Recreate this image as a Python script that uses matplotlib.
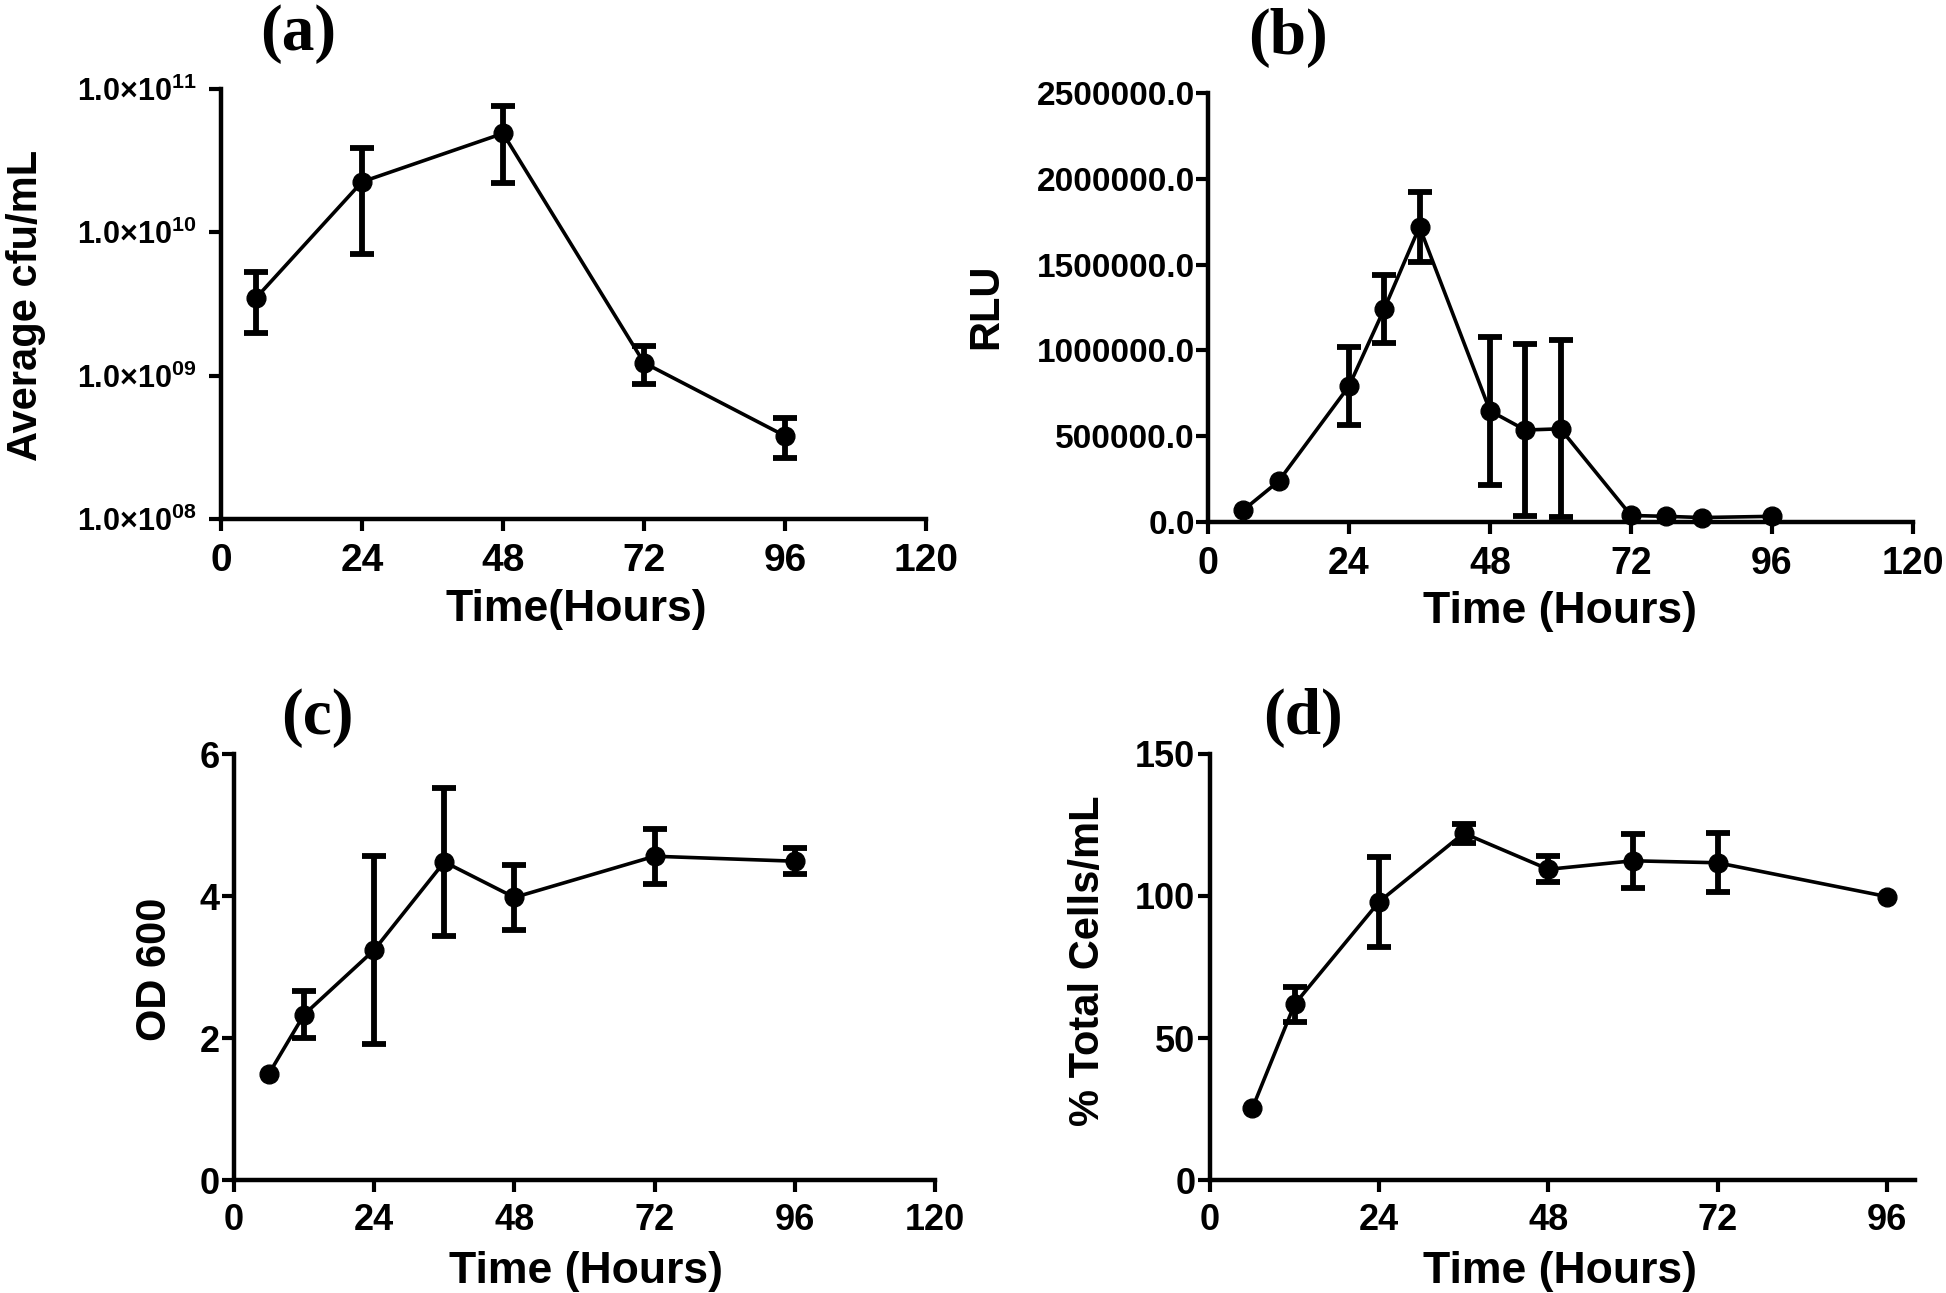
import numpy as np
import matplotlib
matplotlib.use("Agg")
import matplotlib.pyplot as plt
from matplotlib.ticker import FixedLocator, FixedFormatter, NullLocator

# --- data ---
# (a) viable counts
t_a = [6, 24, 48, 72, 96]
cfu_mean = [3.5e9, 2.25e10, 4.9e10, 1.23e9, 3.8e8]
cfu_low = [2.0e9, 7.1e9, 2.2e10, 8.8e8, 2.65e8]
cfu_high = [5.3e9, 3.85e10, 7.6e10, 1.6e9, 5.05e8]

# (b) bioluminescence
t_b = [6, 12, 24, 30, 36, 48, 54, 60, 72, 78, 84, 96]
rlu_mean = [69000, 237000, 792000, 1242000, 1720000, 648000, 536000, 543000, 38000, 33000, 26000, 33000]
rlu_err = [0, 0, 225000, 198000, 205000, 433000, 500000, 515000, 0, 0, 0, 0]

# (c) optical density
t_c = [6, 12, 24, 36, 48, 72, 96]
od_mean = [1.50, 2.33, 3.24, 4.48, 3.98, 4.56, 4.49]
od_err = [0, 0.33, 1.32, 1.04, 0.455, 0.39, 0.18]

# (d) total cells
t_d = [6, 12, 24, 36, 48, 60, 72, 96]
cells_mean = [25.2, 61.9, 98.0, 122.1, 109.4, 112.4, 111.7, 99.8]
cells_err = [0, 6.2, 15.8, 3.4, 4.6, 9.5, 10.4, 0]

hour_ticks = [0, 24, 48, 72, 96, 120]
cfu_ticks = [1e8, 1e9, 1e10, 1e11]
cfu_ticklabels = [r"$\mathbf{1.0{\times}10^{08}}$", r"$\mathbf{1.0{\times}10^{09}}$",
                  r"$\mathbf{1.0{\times}10^{10}}$", r"$\mathbf{1.0{\times}10^{11}}$"]
rlu_ticks = [0, 500000, 1000000, 1500000, 2000000, 2500000]
od_ticks = [0, 2, 4, 6]
cells_ticks = [0, 50, 100, 150]

plt.rcParams["font.family"] = "Liberation Sans"
plt.rcParams["font.weight"] = "bold"
plt.rcParams["mathtext.fontset"] = "custom"
plt.rcParams["mathtext.rm"] = "Liberation Sans:bold"
plt.rcParams["mathtext.bf"] = "Liberation Sans:bold"

W, H = 1946, 1293
fig = plt.figure(figsize=(W / 100, H / 100), dpi=100)


def rect(l, r, t, b):
    return [l / W, 1 - b / H, (r - l) / W, (b - t) / H]


def style(ax, ysize, ypad, xsize=27, xpad=8):
    for s in ("top", "right"):
        ax.spines[s].set_visible(False)
    for s in ("left", "bottom"):
        ax.spines[s].set_linewidth(3.2)
    ax.tick_params(axis="both", direction="out", length=8.5, width=3)
    ax.tick_params(axis="x", labelsize=xsize, pad=xpad)
    ax.tick_params(axis="y", labelsize=ysize, pad=ypad)
    for lab in ax.get_xticklabels() + ax.get_yticklabels():
        lab.set_fontweight("bold")


def draw(ax, x, y, err_lo, err_hi):
    x = np.asarray(x, float)
    y = np.asarray(y, float)
    lo = np.asarray(err_lo, float)
    hi = np.asarray(err_hi, float)
    ax.plot(x, y, color="black", lw=2.6, marker="o", ms=13.5, clip_on=False, zorder=3)
    # only bars that stick out past the marker are drawn
    m = (lo > 0) | (hi > 0)
    ax.errorbar(x[m], y[m], yerr=[lo[m], hi[m]], fmt="none", ecolor="black",
                elinewidth=4.2, capsize=8.5, capthick=4.2, clip_on=False, zorder=2)


def label(x, y, s, **kw):
    fig.text(x / W, 1 - y / H, s, ha="center", va="center", **kw)


# (a)
ax = fig.add_axes(rect(221, 926, 89, 519))
ax.set_yscale("log")
cm = np.asarray(cfu_mean)
draw(ax, t_a, cfu_mean, cm - np.asarray(cfu_low), np.asarray(cfu_high) - cm)
ax.set_xlim(0, 120)
ax.set_ylim(1e8, 1e11)
ax.set_xticks(hour_ticks)
ax.yaxis.set_major_locator(FixedLocator(cfu_ticks))
ax.yaxis.set_major_formatter(FixedFormatter(cfu_ticklabels))
ax.yaxis.set_minor_locator(NullLocator())
style(ax, ysize=22, ypad=9, xsize=28, xpad=9)

# (b)
ax = fig.add_axes(rect(1208, 1913, 93, 522))
draw(ax, t_b, rlu_mean, rlu_err, rlu_err)
ax.set_xlim(0, 120)
ax.set_ylim(0, 2500000)
ax.set_xticks(hour_ticks)
ax.set_yticks(rlu_ticks)
ax.set_yticklabels([f"{v:.1f}" for v in rlu_ticks])
style(ax, ysize=24, ypad=1, xsize=27, xpad=9)

# (c)
ax = fig.add_axes(rect(234, 935, 754, 1180))
draw(ax, t_c, od_mean, od_err, od_err)
ax.set_xlim(0, 120)
ax.set_ylim(0, 6)
ax.set_xticks(hour_ticks)
ax.set_yticks(od_ticks)
style(ax, ysize=26, ypad=2, xsize=26, xpad=8)

# (d)
ax = fig.add_axes(rect(1210, 1915, 754, 1180))
draw(ax, t_d, cells_mean, cells_err, cells_err)
ax.set_xlim(0, 100)
ax.set_ylim(0, 150)
ax.set_xticks(hour_ticks[:-1])
ax.set_yticks(cells_ticks)
style(ax, ysize=26, ypad=2, xsize=26, xpad=8)

# axis titles
label(576, 610, "Time(Hours)", fontsize=32, fontweight="bold")
label(1560, 611, "Time (Hours)", fontsize=32, fontweight="bold")
label(586, 1271, "Time (Hours)", fontsize=32, fontweight="bold")
label(1560, 1271, "Time (Hours)", fontsize=32, fontweight="bold")
label(26, 305, "Average cfu/mL", fontsize=30, fontweight="bold", rotation=90)
label(986, 306, "RLU", fontsize=30, fontweight="bold", rotation=90)
label(155, 969, "OD 600", fontsize=30, fontweight="bold", rotation=90)
label(1088, 961, "% Total Cells/mL", fontsize=30, fontweight="bold", rotation=90)

# panel letters
for (px, py, s) in [(298, 34, "(a)"), (1288, 38, "(b)"), (317, 718, "(c)"), (1303, 718, "(d)")]:
    label(px, py, s, fontsize=47, fontweight="bold", family="Liberation Serif")

fig.savefig("out.png", dpi=100, facecolor="white")
